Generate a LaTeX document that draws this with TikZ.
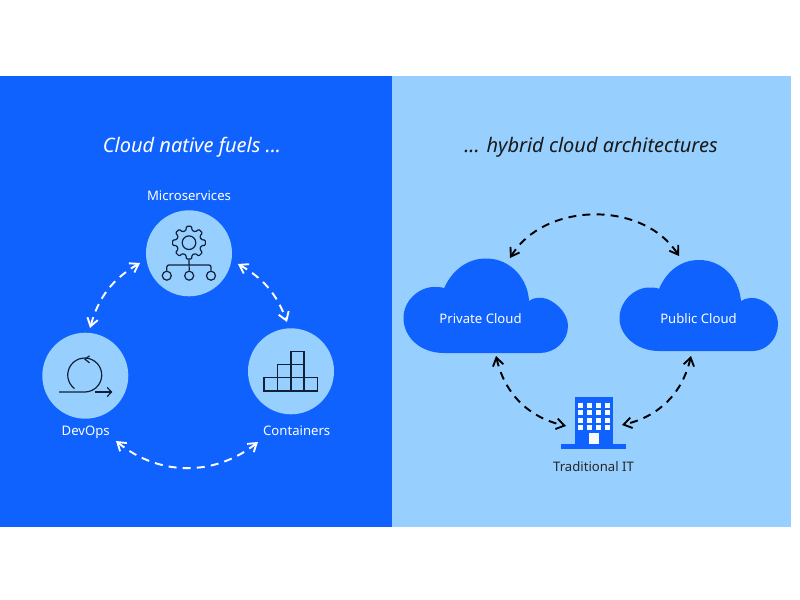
\documentclass[tikz,border=0pt]{standalone}
\usepackage{fontspec}
\setmainfont{Noto Sans}
\usetikzlibrary{arrows.meta,calc}
\definecolor{ibmblue}{HTML}{0F62FE}
\definecolor{ibmlight}{HTML}{97D0FF}
\definecolor{iconink}{HTML}{10203A}
\tikzset{
  lab/.style={font=\fontsize{9.85pt}{11pt}\selectfont,inner sep=0pt},
  whitelab/.style={lab,text=white},
  darklab/.style={lab,text=black!85},
  headlab/.style={font=\fontsize{15pt}{17pt}\itshape\selectfont,inner sep=0pt},
  disc/.style={circle,fill=ibmlight,minimum size=64.5pt,inner sep=0pt},
  dbl/.style={line width=1.45pt,dash pattern=on 6pt off 4.6pt,{Straight Barb[length=6pt,width=8pt,line width=1.4pt]}-{Straight Barb[length=6pt,width=8pt,line width=1.4pt]}},
  icon/.style={draw=iconink,line width=0.9pt},
  boxicon/.style={draw=iconink,line width=1.15pt},
  cloudfill/.style={fill=ibmblue,draw=none},
  leaf/.style={circle,icon,minimum size=6.75pt,inner sep=0pt}
}
\begin{document}
\begin{tikzpicture}[x=0.75pt,y=-0.75pt]
\useasboundingbox (0,0) rectangle (800,600);
\fill[white] (0,0) rectangle (800,600);
\fill[ibmblue] (0,76) rectangle (392,527);
\fill[ibmlight] (392,76) rectangle (791,527);
\node[headlab,text=white] (h1) at (192,147.5) {Cloud native fuels ...};
\node[headlab,text=black!90] (h2) at (591,147.5) {... hybrid cloud architectures};
% discs
\node[disc] (ms) at (189,253.3) {};
\node[disc] (dv) at (85.3,375.7) {};
\node[disc] (ct) at (291,371.3) {};
\node[whitelab] (lms) at (189,195.5) {Microservices};
\node[whitelab] (ldv) at (85.7,432) {DevOps};
\node[whitelab] (lct) at (296.7,431) {Containers};
% gear
\begin{scope}[shift={(189,242.7)}]
\draw[icon] (0,0) circle (6.8);
\draw[icon,rounded corners=0.8pt] (346:12.6)
  \foreach \a in {0,45,...,315} { -- (\a-9:16.6) -- (\a+9:16.6) -- (\a+14:12.6) -- (\a+31:12.6) } -- cycle;
\end{scope}
\coordinate (treetop) at (189,259.3);
\coordinate (treemid) at (189,265);
\node[leaf] (c1) at (166.8,275.7) {};
\node[leaf] (c2) at (189.2,275.7) {};
\node[leaf] (c3) at (211,275.7) {};
\draw[icon] (treetop) -- (c2.north);
\draw[icon,rounded corners=1.5pt] (c1.north) |- (treemid) -| (c3.north);
% devops
\draw[icon] (74.5,388.6) arc[start angle=127,end angle=450,radius=17] -- (59,392);
\draw[icon] (95,392) -- (111.5,392);
\draw[icon] (107.2,387.5) -- (111.5,392) -- (107.2,396.5);
\draw[icon] (89.5,355.8) -- (85,359.3) -- (89.5,362.8);
% containers
\draw[boxicon] (264,377.7) rectangle (277.7,391);
\draw[boxicon] (277.7,377.7) rectangle (291,391);
\draw[boxicon] (291,377.7) rectangle (304,391);
\draw[boxicon] (304,377.7) rectangle (317.3,391);
\draw[boxicon] (277.7,364.3) rectangle (291,377.7);
\draw[boxicon] (291,364.3) rectangle (304,377.7);
\draw[boxicon] (291,351.7) rectangle (304,364.3);
% left arrows
\coordinate (a1) at (140,263);
\coordinate (a2) at (90,328);
\coordinate (a3) at (238,264);
\coordinate (a4) at (287,322);
\coordinate (a5) at (116,441);
\coordinate (a6) at (258,442);
\draw[dbl,draw=white] (a1) to[bend right=22] (a2);
\draw[dbl,draw=white] (a3) to[bend left=20] (a4);
\draw[dbl,draw=white] (a5) to[bend right=39] (a6);
% clouds
\path[cloudfill] (444,353) .. controls (420,353) and (403.5,337) .. (403.5,318) .. controls (403.5,300) and (420,286) .. (436,287) .. controls (440,287) and (444,287.5) .. (444,288.5) .. controls (452,270) and (468,258) .. (487,258.5) .. controls (511,259) and (528,279) .. (529,301) .. controls (534,297) and (541,297) .. (547,299) .. controls (559,304) and (568,315) .. (568,326) .. controls (568,341) and (555,353) .. (540,353) -- cycle;
\path[cloudfill] (659,351) .. controls (637,351) and (619.5,336) .. (619.5,318) .. controls (619.5,302) and (634,287) .. (650,287.5) .. controls (655,287.5) and (658,288) .. (659,289) .. controls (667,270) and (682,260) .. (699,260) .. controls (722,260) and (739,278) .. (741,301) .. controls (747,297) and (755,297) .. (761,300) .. controls (771,304) and (778,314) .. (778,324) .. controls (778,339) and (766,351) .. (753,351) -- cycle;
\node[whitelab] (lpr) at (480.5,319) {Private Cloud};
\node[whitelab] (lpu) at (698.5,319) {Public Cloud};
\coordinate (pr) at (510,258);
\coordinate (pu) at (679,256);
\coordinate (pr2) at (496,356);
\coordinate (pu2) at (691,356);
% building
\fill[ibmblue] (575,397.3) rectangle (612.7,447);
\fill[ibmblue] (561.3,444.3) rectangle (626,449);
\foreach \c in {0,1,2,3}\foreach \r in {0,1,2,3}
  \fill[white!92!ibmlight] ({577.7+\c*9.1},{402.7+\r*7.55}) rectangle +(5,4.8);
\fill[white!92!ibmlight] (589,432.7) rectangle (598.7,444.3);
\coordinate (b1) at (566,426);
\coordinate (b2) at (622,425);
\node[darklab] (lti) at (593.5,466.5) {Traditional IT};
\draw[dbl,draw=black] (pr) to[bend left=58] (pu);
\draw[dbl,draw=black] (pr2) to[bend right=32] (b1);
\draw[dbl,draw=black] (pu2) to[bend left=32] (b2);
\end{tikzpicture}
\end{document}
